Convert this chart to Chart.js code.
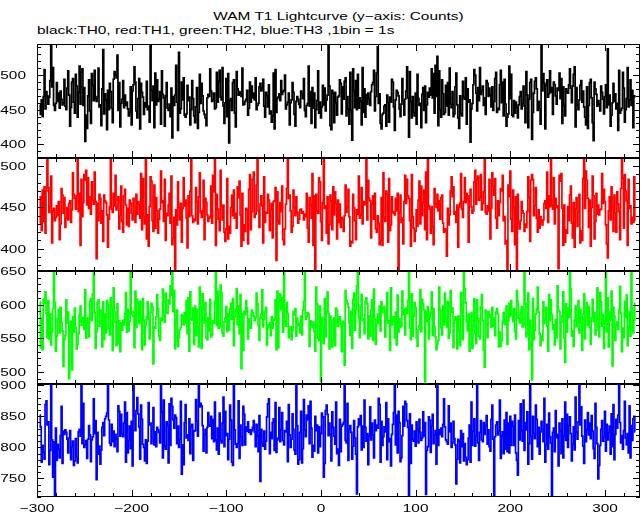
<!DOCTYPE html>
<html>
<head>
<meta charset="utf-8">
<script src="https://cdn.jsdelivr.net/npm/chart.js@4.4.1/dist/chart.umd.min.js"></script>
<style>
  body { margin: 0; background: #fff; width: 643px; height: 515px; position: relative; overflow: hidden;
         font-family: "Liberation Sans", Arial, sans-serif; }
  .txt { position: absolute; font-size: 11px; line-height: 11px; white-space: nowrap; color: #000; }
  #title { left: 37px; width: 603px; top: 11px; text-align: center; transform: scaleX(1.4); transform-origin: 50% 0; }
  #subtitle { left: 37px; top: 25px; transform: scaleX(1.4); transform-origin: 0 0; }
  canvas { position: absolute; left: 0; }
</style>
</head>
<body>
<div id="title" class="txt">WAM T1 Lightcurve (y−axis: Counts)</div>
<div id="subtitle" class="txt">black:TH0, red:TH1, green:TH2, blue:TH3 ,1bin = 1s</div>
<canvas id="c0" width="643" height="134"></canvas>
<canvas id="c1" width="643" height="133"></canvas>
<canvas id="c2" width="643" height="133"></canvas>
<canvas id="c3" width="643" height="151"></canvas>
<script>
// time bins: 1 s each, first bin at t0
const t0 = -297;

const xTicks = [-300, -200, -100, 0, 100, 200, 300];
const yTicksTH0 = [400, 450, 500];
const yTicksTH1 = [400, 450, 500];
const yTicksTH2 = [500, 550, 600, 650];
const yTicksTH3 = [750, 800, 850, 900];
const yMin = [380, 373, 482, 720];
const yMax = [545, 510, 650, 902];

const th0Counts = [
  457,443,464,440,469,508,451,476,470,458, 468,492,548,483,511,456,449,459,489,462,
  474,452,477,465,457,460,494,455,450,481, 506,471,426,453,490,495,461,445,501,484,
  439,475,513,458,504,509,456,482,404,442, 423,470,493,448,430,502,485,463,507,466,
  462,469,510,454,457,427,480,537,444,473, 464,421,478,450,488,476,452,431,494,505,
  500,496,529,449,489,425,459,465,492,453, 471,456,461,451,441,446,483,428,477,486,
  512,490,448,438,466,495,422,488,475,468, 443,460,454,491,450,455,432,546,478,463,
  484,424,503,457,493,462,465,476,429,506, 472,467,426,470,489,452,449,458,440,481,
  409,469,456,471,514,461,420,533,445,451, 490,464,496,442,439,444,485,463,468,428,
  450,492,466,441,431,454,482,423,446,501, 459,488,470,448,443,438,427,467,472,469,
  509,477,462,465,474,451,453,504,461,491, 507,468,464,511,455,430,460,495,440,502,
  402,463,466,449,489,493,445,425,505,480, 471,476,473,469,510,457,458,462,465,478,
  442,452,490,461,484,467,474,464,496,450, 456,459,483,488,477,481,494,455,439,475,
  470,454,486,444,448,432,441,503,422,508, 446,466,468,473,463,492,472,476,478,500,
  451,457,461,474,428,460,464,489,475,443, 426,462,469,465,458,453,477,473,466,495,
  449,440,456,459,513,455,476,430,482,452, 474,424,450,463,506,445,461,438,454,485,
  457,481,448,464,471,549,484,427,421,478, 473,431,475,460,442,468,470,493,488,444,
  483,465,491,496,441,469,451,429,504,449, 406,509,477,453,492,450,501,452,467,462,
  428,511,446,480,439,472,458,474,466,456, 476,486,489,507,448,469,503,541,459,473,
  430,422,443,445,455,457,426,471,460,432, 468,461,494,490,454,420,464,478,475,470,
  451,440,458,495,463,442,465,477,512,467, 410,505,462,438,469,446,441,474,429,501,
  466,456,459,424,472,482,449,484,431,457, 475,468,481,471,509,467,502,445,514,469,
  527,427,506,450,439,493,473,443,446,485, 455,489,442,510,458,453,476,440,444,483,
  503,457,438,423,470,445,441,491,468,465, 496,429,480,461,464,403,451,459,486,508,
  500,474,448,482,463,511,472,477,484,456, 467,443,492,488,469,481,471,454,483,449,
  462,495,504,446,452,450,486,507,460,490, 441,494,458,426,439,444,513,466,501,442,
  440,463,445,461,453,438,457,469,476,451, 459,484,455,431,505,471,424,465,489,494,
  407,446,474,491,496,480,449,462,452,429, 544,477,502,488,422,485,493,468,473,506,
  475,482,443,490,486,470,458,481,478,503, 466,495,430,483,456,441,480,476,474,486,
  509,481,460,484,501,512,425,482,457,450, 464,485,492,461,477,454,439,428,483,423,
  456,489,494,467,431,405,490,480,472,455, 463,458,448,484,475,465,444,469,486,453,
  538,457,471,426,442,460,488,462,473,451, 459,420,507,445,449,452,504,481,432,450,
  466,511,454,464,493,456,478,424,470,468
];

const th1Counts = [
  431,463,422,471,433,475,419,470,514,474, 444,451,488,407,446,449,434,438,452,440,
  457,411,430,473,465,443,462,426,437,450, 435,455,458,432,447,492,466,461,448,464,
  512,445,467,404,484,439,456,490,483,495, 453,486,449,463,442,481,459,454,493,457,
  388,455,434,466,461,431,446,409,465,458, 456,441,402,436,451,516,448,444,467,452,
  489,447,450,463,424,440,476,433,420,464, 472,453,429,449,427,459,455,443,435,461,
  445,432,466,442,457,454,437,491,423,485, 439,430,513,412,441,403,451,487,482,434,
  421,477,425,462,446,419,436,448,494,456, 458,433,484,410,443,440,453,467,431,488,
  405,413,438,372,447,429,481,450,435,455, 408,449,486,452,459,437,401,464,439,470,
  515,440,432,436,434,474,457,430,463,492, 444,438,446,483,411,461,456,441,433,437,
  439,476,431,489,469,518,404,466,448,436, 422,495,451,435,453,420,409,424,485,412,
  427,419,450,465,440,471,437,443,425,475, 462,482,441,403,467,410,429,421,449,447,
  406,472,490,423,445,484,493,438,442,477, 512,446,426,454,464,452,407,487,432,444,
  443,466,459,422,447,455,413,457,458,474, 386,469,434,430,456,445,476,411,405,424,
  454,473,514,461,465,446,420,427,471,450, 440,463,444,431,436,447,448,443,445,435,
  442,439,467,425,408,462,453,437,491,404, 464,373,466,446,443,486,481,433,410,456,
  517,449,452,419,463,406,429,465,458,423, 475,441,469,455,412,459,432,454,426,438,
  436,421,440,477,444,451,472,439,403,409, 407,466,450,434,411,447,442,488,437,441,
  474,430,457,453,456,513,435,483,461,458, 413,454,464,436,467,424,420,440,431,405,
  410,462,404,492,438,433,470,466,408,485, 422,429,463,445,443,441,461,446,467,370,
  444,465,432,437,406,457,489,455,484,464, 461,434,403,490,439,425,409,421,447,427,
  459,482,430,476,440,456,471,423,493,411, 515,452,448,419,451,426,405,473,454,450,
  466,446,458,436,462,465,431,420,424,422, 391,449,429,441,470,487,463,475,442,445,
  432,453,402,450,455,491,448,438,457,486, 456,467,461,408,464,472,451,443,446,481,
  495,454,483,488,459,462,490,447,455,469, 512,444,442,452,446,484,412,449,492,476,
  465,485,437,425,458,440,456,473,470,489, 434,439,406,410,371,477,463,494,436,421,
  471,450,405,463,374,466,431,424,434,457, 446,443,421,430,426,445,487,462,409,483,
  490,484,440,452,474,437,420,447,425,439, 433,429,435,455,458,449,493,432,464,451,
  516,453,448,486,430,461,450,452,376,489, 482,491,449,404,453,408,423,419,451,434,
  465,476,431,413,456,402,448,462,427,444, 466,407,422,410,485,514,449,494,483,461,
  426,459,403,450,488,464,412,433,467,442, 453,441,447,448,491,455,472,457,429,406,
  389,446,463,435,475,451,421,465,443,420, 469,454,445,411,473,513,486,425,490,470,
  458,404,484,449,452,430,438,432,487,434
];

const th2Counts = [
  604,536,580,533,608,602,619,587,551,606, 549,586,540,560,594,653,603,531,553,579,
  593,558,596,574,561,508,548,554,607,573, 589,490,567,575,503,582,559,595,566,534,
  541,557,585,598,569,578,581,563,622,550, 580,572,552,605,609,576,616,656,588,535,
  560,603,607,568,592,590,537,604,548,586, 558,606,602,565,555,610,596,532,625,589,
  574,539,601,542,576,530,573,562,577,570, 587,618,559,593,561,575,651,585,590,583,
  536,620,566,608,603,572,605,579,533,609, 577,540,569,581,604,578,549,588,602,597,
  512,567,565,582,615,594,553,547,580,576, 623,586,574,617,589,587,607,601,628,614,
  654,590,621,534,575,592,538,551,563,566, 585,583,570,588,572,606,557,610,531,619,
  579,577,595,541,598,554,593,567,537,626, 596,535,616,592,573,603,550,548,581,561,
  608,552,555,576,572,605,650,569,620,565, 567,629,618,558,553,574,580,597,560,586,
  562,594,602,578,609,539,582,593,624,570, 598,557,615,505,587,532,590,585,606,595,
  549,579,568,565,592,588,583,576,581,617, 601,569,547,580,586,622,567,578,589,596,
  540,566,570,573,554,582,565,577,579,607, 533,620,536,604,616,593,610,559,657,575,
  568,603,587,551,563,567,548,561,590,585, 594,553,580,569,572,558,583,555,592,605,
  652,578,582,588,586,538,576,570,566,574, 560,531,626,601,550,547,598,486,581,567,
  542,609,552,589,619,587,534,583,577,537, 548,580,539,595,592,568,578,582,569,530,
  575,572,510,621,606,602,596,573,554,590, 535,608,617,562,593,628,655,581,551,597,
  615,576,579,557,605,610,601,549,583,553, 592,607,547,623,578,541,574,586,572,598,
  561,604,588,594,597,552,577,618,573,576, 532,625,570,580,582,550,589,540,614,559,
  579,566,568,620,585,593,555,595,587,606, 651,565,548,616,553,583,603,596,551,538,
  563,569,622,560,608,601,592,485,590,575, 597,549,581,588,619,554,594,567,552,533,
  541,547,626,592,566,555,598,570,617,580, 567,605,550,558,621,589,595,536,573,582,
  578,534,583,562,539,618,593,548,658,624, 603,574,561,586,531,540,588,535,569,609,
  557,542,607,579,553,549,597,615,576,532, 507,592,587,551,590,585,581,566,596,568,
  580,554,589,594,586,537,559,538,547,575, 588,572,570,598,541,576,602,583,606,585,
  575,594,560,549,621,605,580,573,588,597, 567,569,653,602,552,558,617,533,577,566,
  488,609,548,562,586,593,626,589,557,539, 554,547,604,572,579,596,568,531,615,576,
  607,585,563,570,540,578,551,628,592,590, 534,574,583,619,550,514,601,559,595,581,
  656,623,553,561,538,577,598,567,579,606, 558,593,573,532,586,616,549,582,603,569,
  597,566,541,580,608,575,588,555,562,625, 578,552,618,604,568,585,535,572,652,560,
  610,537,589,576,620,509,596,583,547,570, 574,563,592,627,587,530,565,551,605,581,
  614,539,567,590,553,654,595,558,577,602
];

const th3Counts = [
  852,833,776,803,792,781,869,875,836,841, 772,795,905,812,752,809,722,831,779,805,
  797,783,819,866,774,826,821,828,824,813, 791,815,827,780,801,810,771,778,814,784,
  775,825,829,818,903,806,871,800,804,811, 782,813,835,820,777,812,817,878,822,843,
  748,824,789,802,773,796,832,840,819,846, 850,855,906,844,807,803,837,809,826,801,
  821,814,793,867,858,818,853,822,817,839, 873,776,856,791,811,834,798,842,770,901,
  851,827,859,880,854,833,781,868,845,805, 800,778,812,774,810,872,836,839,806,829,
  864,804,825,801,832,828,824,807,908,857, 783,876,802,797,841,835,775,870,803,879,
  866,844,831,852,848,806,834,800,813,874, 757,804,772,840,869,815,820,811,846,790,
  833,837,779,826,827,877,842,818,902,865, 871,867,835,794,821,829,791,832,856,836,
  834,850,814,845,809,873,812,796,831,789, 855,811,807,839,881,801,858,819,822,780,
  813,868,844,776,771,906,828,805,800,806, 875,782,836,817,803,866,853,804,833,826,
  841,824,828,821,827,832,843,825,801,837, 818,793,851,745,829,807,802,826,797,810,
  849,870,878,790,824,814,840,846,795,872, 792,812,815,864,809,828,856,811,804,827,
  825,842,777,869,820,800,813,854,829,796, 789,904,835,773,780,824,858,775,798,877,
  828,817,852,844,867,806,874,831,784,803, 794,850,827,836,791,833,801,822,855,849,
  752,774,859,868,853,819,839,821,778,857, 832,818,805,873,790,797,771,845,793,834,
  837,840,903,811,807,871,779,829,835,824, 781,802,843,815,789,725,833,846,836,851,
  796,834,800,876,832,810,822,772,818,865, 812,839,820,783,844,827,836,831,879,869,
  776,842,803,817,833,825,872,780,846,809, 814,770,821,837,856,905,804,852,791,858,
  840,777,783,819,866,834,874,870,843,832, 722,854,774,836,813,810,826,802,841,829,
  807,845,824,811,815,857,818,840,724,795, 801,849,844,792,835,853,806,820,827,773,
  902,803,828,821,831,817,837,878,833,812, 809,805,867,825,839,800,807,842,814,804,
  741,781,813,810,775,827,801,822,778,806, 784,772,780,815,836,776,873,803,826,846,
  802,819,907,807,779,824,843,812,809,840, 821,835,851,805,828,801,794,845,868,813,
  721,817,836,841,820,826,876,782,818,825, 790,844,797,856,793,839,791,850,803,842,
  834,803,852,791,779,755,843,812,870,826, 810,876,795,840,828,857,773,806,904,818,
  781,850,822,814,868,845,801,832,789,825, 842,829,809,879,776,804,837,797,855,817,
  807,723,824,831,793,859,815,821,770,839, 827,790,846,783,819,873,811,853,800,835,
  849,822,778,805,833,796,881,825,813,841, 901,836,865,818,802,774,844,809,828,856,
  820,839,814,851,826,798,782,871,832,806, 749,771,803,829,843,810,817,858,794,837,
  812,824,834,789,854,801,869,780,821,845, 831,852,903,840,807,819,797,827,874,815,
  804,822,791,867,783,835,811,846,850,825
];

const xMin = -300, xMax = 337;

const panels = [
  { id: 'c0', counts: th0Counts, color: '#000000', yTicks: yTicksTH0, top: 44, bottom: 158 },
  { id: 'c1', counts: th1Counts, color: '#ff0000', yTicks: yTicksTH1, top: 158, bottom: 271 },
  { id: 'c2', counts: th2Counts, color: '#00ff00', yTicks: yTicksTH2, top: 271, bottom: 384 },
  { id: 'c3', counts: th3Counts, color: '#0000ff', yTicks: yTicksTH3, top: 384, bottom: 495 }
];

const FONT = '11px "Liberation Sans", Arial, sans-serif';
const STRETCH = 1.4;

// IDL-style frame: box, inward ticks on all four sides, stretched labels
const framePlugin = {
  id: 'frame',
  afterDatasetsDraw(chart, args, opts) {
    const { ctx, chartArea: a, scales: { x, y } } = chart;
    ctx.save();
    ctx.strokeStyle = '#000';
    ctx.lineWidth = 1;
    ctx.strokeRect(a.left + 0.5, a.top + 0.5, a.right - a.left - 1, a.bottom - a.top - 1);
    ctx.beginPath();
    for (let v = -300; v <= xMax; v += 20) {
      const len = v % 100 === 0 ? 7 : 4;
      const px = Math.round(x.getPixelForValue(v)) + 0.5;
      ctx.moveTo(px, a.bottom); ctx.lineTo(px, a.bottom - len);
      ctx.moveTo(px, a.top); ctx.lineTo(px, a.top + len);
    }
    for (let v = Math.ceil(y.min / 10) * 10; v <= y.max; v += 10) {
      const len = v % 50 === 0 ? 7 : 4;
      const py = Math.round(y.getPixelForValue(v)) + 0.5;
      ctx.moveTo(a.left, py); ctx.lineTo(a.left + len, py);
      ctx.moveTo(a.right, py); ctx.lineTo(a.right - len, py);
    }
    ctx.stroke();

    ctx.fillStyle = '#000';
    ctx.font = FONT;
    ctx.textBaseline = 'alphabetic';
    ctx.textAlign = 'right';
    opts.yTicks.forEach(v => {
      ctx.save();
      ctx.translate(26, y.getPixelForValue(v) + 4);
      ctx.scale(STRETCH, 1);
      ctx.fillText(String(v), 0, 0);
      ctx.restore();
    });
    if (opts.xLabels) {
      ctx.textAlign = 'center';
      xTicks.forEach(v => {
        ctx.save();
        ctx.translate(x.getPixelForValue(v), a.bottom + 15);
        ctx.scale(STRETCH, 1);
        ctx.fillText(String(v).replace('-', '\u2212'), 0, 0);
        ctx.restore();
      });
    }
    ctx.restore();
  }
};

panels.forEach((p, k) => {
  const canvas = document.getElementById(p.id);
  const last = k === panels.length - 1;
  canvas.style.top = (p.top - 10) + 'px';
  new Chart(canvas.getContext('2d'), {
    type: 'line',
    data: {
      datasets: [{
        data: p.counts.map((c, i) => ({ x: t0 + i, y: c })),
        borderColor: p.color,
        borderWidth: 1.7,
        pointRadius: 0,
        stepped: 'middle',
        fill: false
      }]
    },
    options: {
      responsive: false,
      devicePixelRatio: 1,
      animation: false,
      events: [],
      layout: { padding: { left: 37, right: 3, top: 10, bottom: last ? 28 : 10 } },
      plugins: {
        legend: { display: false },
        tooltip: { enabled: false },
        frame: { yTicks: p.yTicks, xLabels: last }
      },
      scales: {
        x: {
          type: 'linear', min: xMin, max: xMax,
          ticks: { display: false }, grid: { display: false, drawTicks: false }, border: { display: false },
          afterFit(s) { s.height = 0; }
        },
        y: {
          type: 'linear', min: yMin[k], max: yMax[k],
          ticks: { display: false }, grid: { display: false, drawTicks: false }, border: { display: false },
          afterFit(s) { s.width = 0; }
        }
      }
    },
    plugins: [framePlugin]
  });
});
</script>
</body>
</html>
